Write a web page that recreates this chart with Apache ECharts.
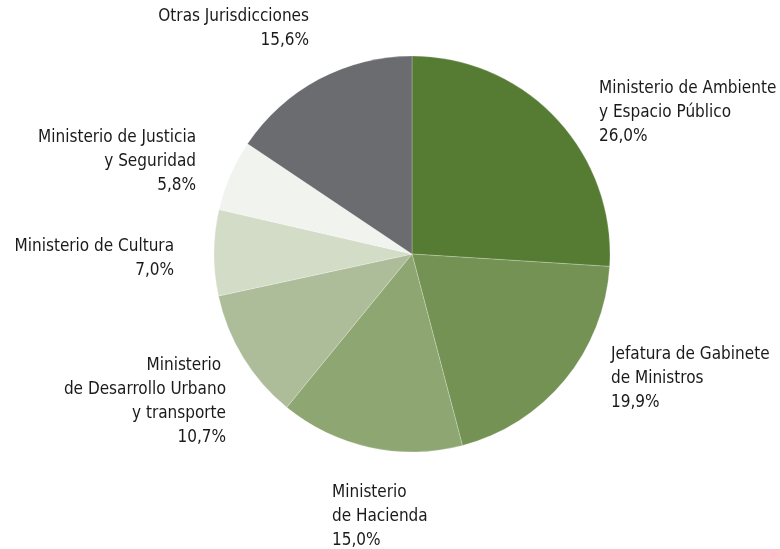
<!DOCTYPE html>
<html>
<head>
<meta charset="utf-8">
<script src="https://cdn.jsdelivr.net/npm/echarts@6/dist/echarts.min.js"></script>
<style>
  html, body { margin: 0; padding: 0; background: #fff; }
  #chart { width: 780px; height: 549px; }
</style>
</head>
<body>
<div id="chart"></div>
<script>
// datos del gráfico (porcentaje por jurisdicción)
const categories = [
  'Ministerio de Ambiente\ny Espacio Público',
  'Jefatura de Gabinete\nde Ministros',
  'Ministerio\nde Hacienda',
  'Ministerio \nde Desarrollo Urbano\ny transporte',
  'Ministerio de Cultura',
  'Ministerio de Justicia\ny Seguridad',
  'Otras Jurisdicciones'
]
const values = [26.0, 19.9, 15.0, 10.7, 7.0, 5.8, 15.6]
const colors = ['#567c34', '#739253', '#8ea672', '#aebd99', '#d3dcc7', '#f1f3ee', '#6b6c70']

// posición de cada etiqueta [x, y, align]
const labelPos = [
  [599, 77, 'left'],
  [611, 343, 'left'],
  [332, 481, 'left'],
  [226, 354, 'right'],
  [174, 235, 'right'],
  [196, 126, 'right'],
  [309, 5, 'right']
]

const chart = echarts.init(document.getElementById('chart'))

chart.setOption({
  animation: false,
  backgroundColor: '#fff',
  textStyle: {
    fontFamily: '"Liberation Sans Narrow", "DejaVu Sans Condensed", "Noto Sans", sans-serif'
  },
  series: [
    {
      type: 'pie',
      center: [412, 254],
      radius: 198,
      startAngle: 90,
      clockwise: true,
      avoidLabelOverlap: false,
      itemStyle: {
        borderColor: 'rgba(255,255,255,0.45)',
        borderWidth: 0.5
      },
      label: {
        show: true,
        position: 'outside',
        color: '#1a1a1a',
        fontSize: 17,
        lineHeight: 24,
        overflow: 'none',
        formatter: p => p.name + '\n' + p.value.toFixed(1).replace('.', ',') + '%'
      },
      labelLine: { show: false },
      labelLayout: params => {
        const pos = labelPos[params.dataIndex]
        return {
          x: pos[0],
          y: pos[1],
          align: pos[2],
          verticalAlign: 'top'
        }
      },
      emphasis: { disabled: true },
      data: categories.map((name, i) => ({
        name: name,
        value: values[i],
        itemStyle: { color: colors[i] },
        label: { align: labelPos[i][2] }
      }))
    }
  ]
})
</script>
</body>
</html>
